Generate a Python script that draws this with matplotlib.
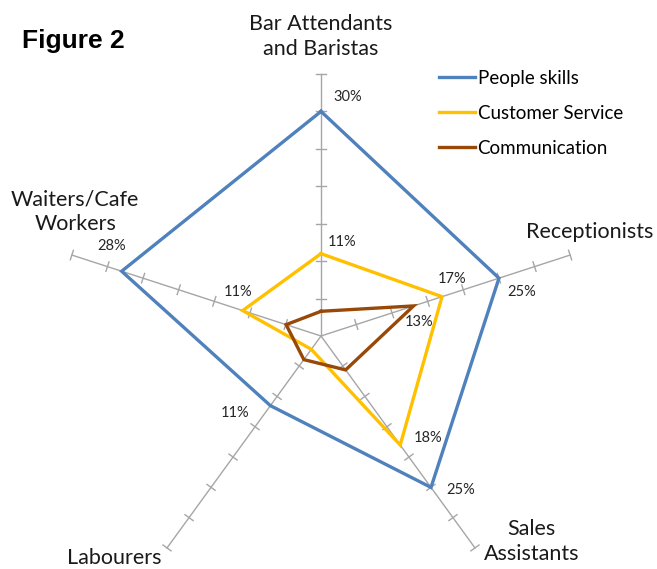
import numpy as np
import matplotlib
matplotlib.use("Agg")
import matplotlib.pyplot as plt

categories = ["Bar Attendants\nand Baristas", "Receptionists", "Sales\nAssistants",
              "Labourers", "Waiters/Cafe\nWorkers"]
series_names = ["People skills", "Customer Service", "Communication"]
people_skills = [30, 25, 25, 11.5, 28]
customer_service = [11, 17, 18, 2.2, 11]
communication = [3.3, 13, 5.6, 3.9, 4.9]
series_values = [people_skills, customer_service, communication]
colors = ["#4F81BD", "#FFC000", "#984807"]
r_max = 35
r_step = 5

# data labels: (series index, category index, label text)
data_labels = [
    (0, 0, "30%"), (1, 0, "11%"),
    (1, 1, "17%"), (2, 1, "13%"), (0, 1, "25%"),
    (1, 2, "18%"), (0, 2, "25%"),
    (0, 3, "11%"),
    (0, 4, "28%"), (1, 4, "11%"),
]
label_offsets = {  # pixel offsets (dx, dy up)
    (0, 0): (27, 14), (1, 0): (21, 12),
    (1, 1): (10, 18), (2, 1): (6, -16), (0, 1): (23, -14),
    (1, 2): (28, 7), (0, 2): (30, -3),
    (0, 3): (-35, -7),
    (0, 4): (-10, 25), (1, 4): (-5, 19),
}

W, H = 657, 569
fig = plt.figure(figsize=(W / 100, H / 100), dpi=100)
cx, cy, R = 321, 336, 262
ax = fig.add_axes([(cx - R) / W, (H - cy - R) / H, 2 * R / W, 2 * R / H], projection="polar")
ax.set_ylim(0, r_max)
ax.set_axis_off()
ax.patch.set_alpha(0)

n = len(categories)
thetas = np.pi / 2 - 2 * np.pi * np.arange(n) / n

axis_color = "#A6A6A6"
px_per_unit = R / r_max
for t in thetas:
    ax.plot([t, t], [0, r_max], color=axis_color, lw=1.0, zorder=1, clip_on=False)
    for r in np.arange(r_step, r_max + 0.01, r_step):
        d = 5.0 / (r * px_per_unit)
        ax.plot([t - d, t + d], [r, r], color=axis_color, lw=1.0, zorder=1, clip_on=False)

for vals, col, name in zip(series_values, colors, series_names):
    tt = np.concatenate([thetas, thetas[:1]])
    vv = np.concatenate([vals, vals[:1]])
    ax.plot(tt, vv, color=col, lw=2.4, label=name, zorder=3, clip_on=False,
            solid_joinstyle="miter")

font = "Lato"
for si, ci, txt in data_labels:
    dx, dy = label_offsets[(si, ci)]
    ax.annotate(txt, xy=(thetas[ci], series_values[si][ci]), xytext=(dx * 0.72, dy * 0.72),
                textcoords="offset points", ha="center", va="center",
                fontsize=10.5, family=font, color="#262626", zorder=5)

cat_pos = [(90, 40.0), (21.1, 38.5), (-44.3, 39.3), (-132.9, 40.5), (153.2, 36.8)]
for lab, (ang, rr) in zip(categories, cat_pos):
    ax.text(np.deg2rad(ang), rr, lab, ha="center", va="center", fontsize=15.5,
            family=font, color="#1a1a1a", linespacing=1.32)

fig.text(22 / W, 1 - 41 / H, "Figure 2", fontsize=19, fontweight="bold",
         family="Liberation Sans", ha="left", va="center")

leg = ax.legend(loc="upper left", bbox_to_anchor=(439 / W, 1 - 70 / H),
                bbox_transform=fig.transFigure, frameon=False,
                handlelength=1.9, handletextpad=0.16, labelspacing=0.95,
                borderpad=0, borderaxespad=0,
                prop={"family": font, "size": 13.5})

fig.savefig("out.png", dpi=100)
